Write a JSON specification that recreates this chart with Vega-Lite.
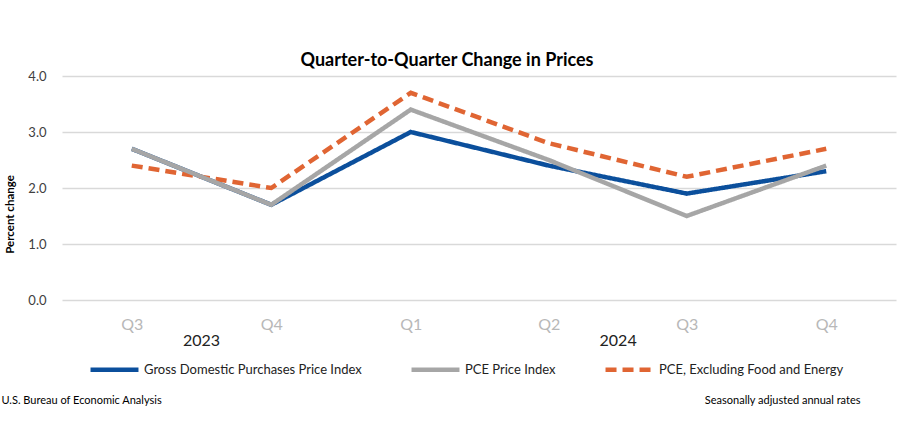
{
  "$schema": "https://vega.github.io/schema/vega-lite/v6.json",
  "width": 834,
  "height": 224,
  "autosize": {"type": "none"},
  "padding": {"left": 62, "top": 76, "right": 4, "bottom": 132},
  "background": "white",
  "config": {"font": "Lato", "view": {"stroke": null}},
  "title": {
    "text": "Quarter-to-Quarter Change in Prices",
    "fontSize": 18,
    "fontWeight": "bold",
    "color": "#000000",
    "anchor": "middle",
    "frame": "group",
    "dx": -32,
    "offset": 0
  },
  "data": {
    "values": [
      {"series": "Gross Domestic Purchases Price Index", "date": "2023-07-01", "year": "2023", "value": 2.7},
      {"series": "Gross Domestic Purchases Price Index", "date": "2023-10-01", "year": "2023", "value": 1.7},
      {"series": "Gross Domestic Purchases Price Index", "date": "2024-01-01", "year": "2024", "value": 3.0},
      {"series": "Gross Domestic Purchases Price Index", "date": "2024-04-01", "year": "2024", "value": 2.4},
      {"series": "Gross Domestic Purchases Price Index", "date": "2024-07-01", "year": "2024", "value": 1.9},
      {"series": "Gross Domestic Purchases Price Index", "date": "2024-10-01", "year": "2024", "value": 2.3},
      {"series": "PCE, Excluding Food and Energy", "date": "2023-07-01", "year": "2023", "value": 2.4},
      {"series": "PCE, Excluding Food and Energy", "date": "2023-10-01", "year": "2023", "value": 2.0},
      {"series": "PCE, Excluding Food and Energy", "date": "2024-01-01", "year": "2024", "value": 3.7},
      {"series": "PCE, Excluding Food and Energy", "date": "2024-04-01", "year": "2024", "value": 2.8},
      {"series": "PCE, Excluding Food and Energy", "date": "2024-07-01", "year": "2024", "value": 2.2},
      {"series": "PCE, Excluding Food and Energy", "date": "2024-10-01", "year": "2024", "value": 2.7},
      {"series": "PCE Price Index", "date": "2023-07-01", "year": "2023", "value": 2.7},
      {"series": "PCE Price Index", "date": "2023-10-01", "year": "2023", "value": 1.7},
      {"series": "PCE Price Index", "date": "2024-01-01", "year": "2024", "value": 3.4},
      {"series": "PCE Price Index", "date": "2024-04-01", "year": "2024", "value": 2.5},
      {"series": "PCE Price Index", "date": "2024-07-01", "year": "2024", "value": 1.5},
      {"series": "PCE Price Index", "date": "2024-10-01", "year": "2024", "value": 2.4}
    ]
  },
  "layer": [
    {
      "mark": {"type": "line", "strokeWidth": 4.5, "strokeCap": "butt"},
      "encoding": {
        "x": {
          "field": "date",
          "type": "temporal",
          "scale": {
            "type": "utc",
            "domain": [
              {"year": 2023, "month": "may", "date": 16, "utc": true},
              {"year": 2024, "month": "nov", "date": 16, "utc": true}
            ]
          },
          "axis": {
            "values": [
              {"year": 2023, "month": "jul", "date": 1, "utc": true},
              {"year": 2023, "month": "oct", "date": 1, "utc": true},
              {"year": 2024, "month": "jan", "date": 1, "utc": true},
              {"year": 2024, "month": "apr", "date": 1, "utc": true},
              {"year": 2024, "month": "jul", "date": 1, "utc": true},
              {"year": 2024, "month": "oct", "date": 1, "utc": true}
            ],
            "labelExpr": "'Q' + utcquarter(datum.value)",
            "labelColor": "#b8b8b8",
            "labelFontSize": 16,
            "labelPadding": 16,
            "ticks": false,
            "domain": false,
            "grid": false,
            "title": "Seasonally adjusted annual rates",
            "titleFontSize": 11,
            "titleFontWeight": "normal",
            "titleColor": "#000000",
            "titleX": 798,
            "titleY": 100,
            "titleAlign": "right",
            "titleBaseline": "middle"
          }
        },
        "y": {
          "field": "value",
          "type": "quantitative",
          "scale": {"domain": [0, 4]},
          "axis": {
            "values": [0, 1, 2, 3, 4],
            "format": ".1f",
            "labelFontSize": 13,
            "labelColor": "#404040",
            "labelPadding": 16,
            "ticks": false,
            "domain": false,
            "gridColor": "#d9d9d9",
            "gridWidth": 1.5,
            "title": "Percent change",
            "titleFontSize": 11.5,
            "titleFontWeight": "bold",
            "titleColor": "#000000",
            "titleX": -52,
            "titleY": 138,
            "titleAlign": "center",
            "titleBaseline": "middle"
          }
        },
        "color": {
          "field": "series",
          "type": "nominal",
          "scale": {
            "domain": ["Gross Domestic Purchases Price Index", "PCE Price Index", "PCE, Excluding Food and Energy"],
            "range": ["#0b4f9c", "#a6a6a6", "#e06533"]
          },
          "legend": {
            "orient": "none",
            "legendX": 26,
            "legendY": 267,
            "direction": "horizontal",
            "columns": 3,
            "title": null,
            "symbolType": "stroke",
            "symbolSize": 2300,
            "symbolStrokeWidth": 4.5,
            "labelFontSize": 13,
            "labelColor": "#222222",
            "columnPadding": 40,
            "labelOffset": 3,
            "labelLimit": 300
          }
        },
        "strokeDash": {
          "field": "series",
          "type": "nominal",
          "scale": {
            "domain": ["Gross Domestic Purchases Price Index", "PCE Price Index", "PCE, Excluding Food and Energy"],
            "range": [[1, 0], [1, 0], [11, 6]]
          },
          "legend": {
            "orient": "none",
            "legendX": 26,
            "legendY": 267,
            "direction": "horizontal",
            "columns": 3,
            "title": null,
            "symbolType": "stroke",
            "symbolSize": 2300,
            "symbolStrokeWidth": 4.5,
            "labelFontSize": 13,
            "labelColor": "#222222",
            "columnPadding": 40,
            "labelOffset": 3,
            "labelLimit": 300
          }
        }
      }
    },
    {
      "mark": {"type": "text", "fontSize": 16, "color": "#222222", "baseline": "middle", "align": "center"},
      "encoding": {
        "x": {
          "aggregate": "mean",
          "field": "date",
          "type": "temporal",
          "axis": {
            "orient": "top",
            "labels": false,
            "ticks": false,
            "domain": false,
            "grid": false,
            "title": "U.S. Bureau of Economic Analysis",
            "titleFontSize": 11,
            "titleFontWeight": "normal",
            "titleColor": "#000000",
            "titleX": -61,
            "titleY": 324,
            "titleAlign": "left",
            "titleBaseline": "middle",
            "titleAngle": 0
          }
        },
        "y": {"datum": -0.73},
        "text": {"field": "year", "type": "nominal"}
      }
    }
  ],
  "resolve": {"axis": {"x": "independent"}}
}
